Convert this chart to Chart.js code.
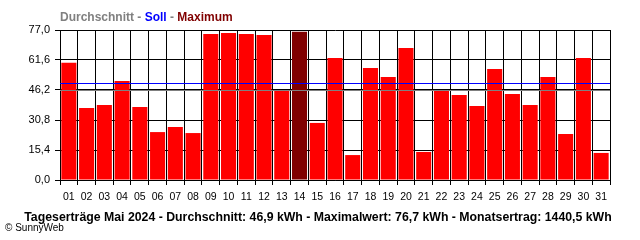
<!DOCTYPE html>
<html lang="de">
<head>
    <meta charset="UTF-8">
    <title>Tageserträge Mai 2024</title>
    <script src="https://cdn.jsdelivr.net/npm/chart.js"></script>
    <style>
        body { margin: 0; background: #fff; }
        #wrap { position: relative; width: 640px; height: 240px; font-family: "Liberation Sans", Arial, sans-serif; }
        #legend { position: absolute; left: 60px; top: 10px; font-weight: bold; font-size: 12px; color: #808080; }
        #caption { position: absolute; left: 0; top: 210px; width: 636px; text-align: center; font-weight: bold; font-size: 12.3px; color: #000; }
        #copy { position: absolute; left: 5px; top: 222px; font-size: 10px; color: #000; }
    </style>
</head>
<body>
    <div id="wrap">
        <canvas id="dayChart" width="640" height="240"></canvas>
        <!-- Legend line above the plot -->
        <div id="legend">Durchschnitt - <span style="color:#0000ff">Soll</span> - <span style="color:#800000">Maximum</span></div>
        <div id="caption">Tageserträge Mai 2024 - Durchschnitt: 46,9 kWh - Maximalwert: 76,7 kWh - Monatsertrag: 1440,5 kWh</div>
        <div id="copy">© SunnyWeb</div>
    </div>

    <script>
        // Data
        const days = ['01','02','03','04','05','06','07','08','09','10','11','12','13','14','15','16',
                      '17','18','19','20','21','22','23','24','25','26','27','28','29','30','31'];
        const yields = [60.2, 37.0, 38.5, 50.8, 37.5, 24.6, 27.2, 24.1, 74.9, 75.5, 74.9, 74.4, 46.0, 76.1, 29.3, 62.6,
                        12.8, 57.5, 52.9, 67.8, 14.4, 46.0, 43.6, 38.0, 57.0, 44.1, 38.5, 52.9, 23.6, 62.6, 13.9];
        const yTicks = [0, 15.4, 30.8, 46.2, 61.6, 77.0];
        const averageLine = 46.2;
        const targetLine = 49.8;

        const maxValue = Math.max(...yields);
        const barColors = yields.map(v => v === maxValue ? '#800000' : '#ff0000');

        // Horizontal lines for Durchschnitt (grey) and Soll (blue), drawn over the bars
        const refLines = {
            id: 'refLines',
            afterDatasetsDraw(chart) {
                const ctx = chart.ctx;
                const area = chart.chartArea;
                const y = chart.scales.y;
                [[averageLine, '#808080'], [targetLine, '#0000ff']].forEach(([v, col]) => {
                    const row = Math.round(y.getPixelForValue(v));
                    ctx.save();
                    ctx.fillStyle = col;
                    ctx.fillRect(area.left, row, area.right - area.left, 1);
                    ctx.restore();
                });
            }
        };

        Chart.defaults.font.family = '"Liberation Sans", Arial, sans-serif';
        Chart.defaults.font.size = 11;
        Chart.defaults.color = '#000';

        new Chart(document.getElementById('dayChart'), {
            type: 'bar',
            data: {
                labels: days,
                datasets: [{
                    data: yields,
                    backgroundColor: barColors,
                    borderWidth: 0,
                    categoryPercentage: 1,
                    barPercentage: 0.85
                }]
            },
            options: {
                responsive: false,
                animation: false,
                layout: { padding: { top: 30, right: 30, bottom: 0, left: 0 } },
                plugins: { legend: { display: false }, tooltip: { enabled: false } },
                scales: {
                    x: {
                        grid: { offset: true, color: '#000', tickLength: 5 },
                        border: { color: '#000' },
                        ticks: { padding: 6, maxRotation: 0, autoSkip: false, font: { size: 10.5 } },
                        afterFit(scale) { scale.height = 60; }
                    },
                    y: {
                        min: 0,
                        max: 77,
                        grid: { color: '#000', tickLength: 5 },
                        border: { color: '#000' },
                        ticks: {
                            padding: 5,
                            callback: v => v.toFixed(1).replace('.', ',')
                        },
                        afterBuildTicks(scale) { scale.ticks = yTicks.map(v => ({ value: v })); },
                        afterFit(scale) { scale.width = 60; }
                    }
                }
            },
            plugins: [refLines]
        });
    </script>
</body>
</html>
